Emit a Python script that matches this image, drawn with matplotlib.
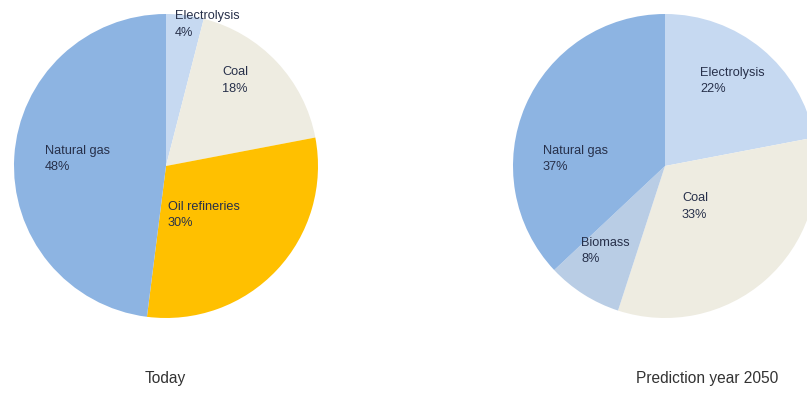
import numpy as np
import matplotlib
matplotlib.use("Agg")
import matplotlib.pyplot as plt

plt.rcParams['font.family'] = ['Liberation Sans', 'DejaVu Sans']

# today
today_names  = ['Electrolysis', 'Coal', 'Oil refineries', 'Natural gas']
today_shares = [4, 18, 30, 48]
today_colors = ['#C6D9F1', '#EEECE1', '#FFC000', '#8DB4E2']

# prediction 2050
future_names  = ['Electrolysis', 'Coal', 'Biomass', 'Natural gas']
future_shares = [22, 33, 8, 37]
future_colors = ['#C6D9F1', '#EEECE1', '#B9CDE5', '#8DB4E2']

titles = ['Today', 'Prediction year 2050']

# label anchors (top-left of the text block), image pixels
today_lbl_px  = [(175, 10), (222, 66), (168, 201), (45, 145)]
future_lbl_px = [(700, 67), (682, 192), (581, 237), (543, 145)]

W, H = 807, 401
R = 152
fig = plt.figure(figsize=(W / 100, H / 100), dpi=100)


def draw_pie(cx, cy, shares, colors, names, lbl_px, title, title_x):
    ax = fig.add_axes([(cx - R) / W, (H - cy - R) / H, 2 * R / W, 2 * R / H])
    ax.pie(shares, colors=colors, startangle=90, counterclock=False,
           radius=1, wedgeprops=dict(linewidth=0))
    ax.set_xlim(-1, 1)
    ax.set_ylim(-1, 1)
    ax.set_aspect('equal')
    ax.axis('off')
    for name, val, (px, py) in zip(names, shares, lbl_px):
        ax.text((px - cx) / R, (cy - py) / R, f"{name}\n{val}%",
                ha='left', va='top', fontsize=9.2, color='#27304a',
                linespacing=1.5)
    fig.text(title_x / W, 1 - 378 / H, title, ha='center', va='center',
             fontsize=11.2, color='#333333')


draw_pie(166, 166, today_shares, today_colors, today_names, today_lbl_px,
         titles[0], 165)
draw_pie(665, 166, future_shares, future_colors, future_names, future_lbl_px,
         titles[1], 707)

fig.savefig('out.png', dpi=100)
